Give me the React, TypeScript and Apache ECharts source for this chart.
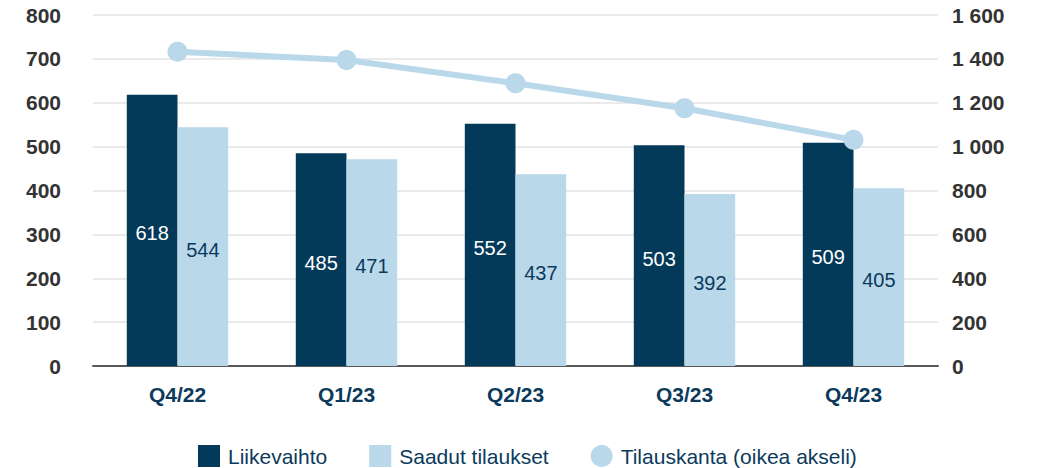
import React, { useEffect, useRef } from "react";
import * as echarts from "echarts";

const categories = ["Q4/22", "Q1/23", "Q2/23", "Q3/23", "Q4/23"];
const liikevaihto = [618, 485, 552, 503, 509];
const saadutTilaukset = [544, 471, 437, 392, 405];
const tilauskanta = [1433, 1395, 1289, 1175, 1031];

const DARK = "#033a5a";
const LIGHT = "#b9d8ea";
const TEXT_BLUE = "#0b3a5c";
const FONT = "Liberation Sans, Arial, sans-serif";

export default function App() {
  const ref = useRef<HTMLDivElement>(null);
  useEffect(() => {
    if (!ref.current) return;
    const chart = echarts.init(ref.current, null, { renderer: "svg" });
    chart.setOption({
      animation: false,
      textStyle: { fontFamily: FONT },
      grid: { left: 93, right: 102, top: 15, bottom: 102, containLabel: false },
      legend: {
        top: 440,
        left: 193,
        itemWidth: 22,
        itemHeight: 22,
        itemGap: 42,
        textStyle: { fontFamily: FONT, fontSize: 21, color: TEXT_BLUE, padding: [0, 0, 0, 3] },
        data: [
          { name: "Liikevaihto", icon: "rect" },
          { name: "Saadut tilaukset", icon: "rect" },
          { name: "Tilauskanta (oikea akseli)", icon: "circle" },
        ],
      },
      xAxis: {
        type: "category",
        data: categories,
        axisTick: { show: false },
        axisLine: { lineStyle: { color: "#595959", width: 2 } },
        axisLabel: { fontFamily: FONT, fontSize: 21, fontWeight: "bold", color: TEXT_BLUE, margin: 18 },
      },
      yAxis: [
        {
          type: "value",
          min: 0,
          max: 800,
          interval: 100,
          axisLine: { show: false },
          axisTick: { show: false },
          splitLine: { lineStyle: { color: "#e3e3e3", width: 1.5 } },
          axisLabel: { fontFamily: FONT, fontSize: 21, fontWeight: "bold", color: "#333333", margin: 32 },
        },
        {
          type: "value",
          min: 0,
          max: 1600,
          interval: 200,
          position: "right",
          axisLine: { show: false },
          axisTick: { show: false },
          splitLine: { show: false },
          axisLabel: {
            fontFamily: FONT,
            fontSize: 21,
            fontWeight: "bold",
            color: "#333333",
            margin: 14,
            formatter: (v: number) => String(v).replace(/\B(?=(\d{3})+(?!\d))/g, " "),
          },
        },
      ],
      series: [
        {
          name: "Liikevaihto",
          type: "bar",
          data: liikevaihto,
          barWidth: "30%",
          barGap: "0%",
          itemStyle: { color: DARK },
          label: { show: true, position: "inside", color: "#ffffff", fontSize: 20, fontFamily: FONT, offset: [0, 3] },
        },
        {
          name: "Saadut tilaukset",
          type: "bar",
          data: saadutTilaukset,
          barWidth: "30%",
          barGap: "0%",
          itemStyle: { color: LIGHT },
          label: { show: true, position: "inside", color: TEXT_BLUE, fontSize: 20, fontFamily: FONT, offset: [0, 3] },
        },
        {
          name: "Tilauskanta (oikea akseli)",
          type: "line",
          yAxisIndex: 1,
          data: tilauskanta,
          symbol: "circle",
          symbolSize: 20,
          lineStyle: { color: LIGHT, width: 6 },
          itemStyle: { color: LIGHT },
          z: 5,
        },
      ],
    });
    return () => chart.dispose();
  }, []);
  return <div ref={ref} style={{ position: "absolute", left: 0, top: 0, width: 1040, height: 468 }} />;
}
